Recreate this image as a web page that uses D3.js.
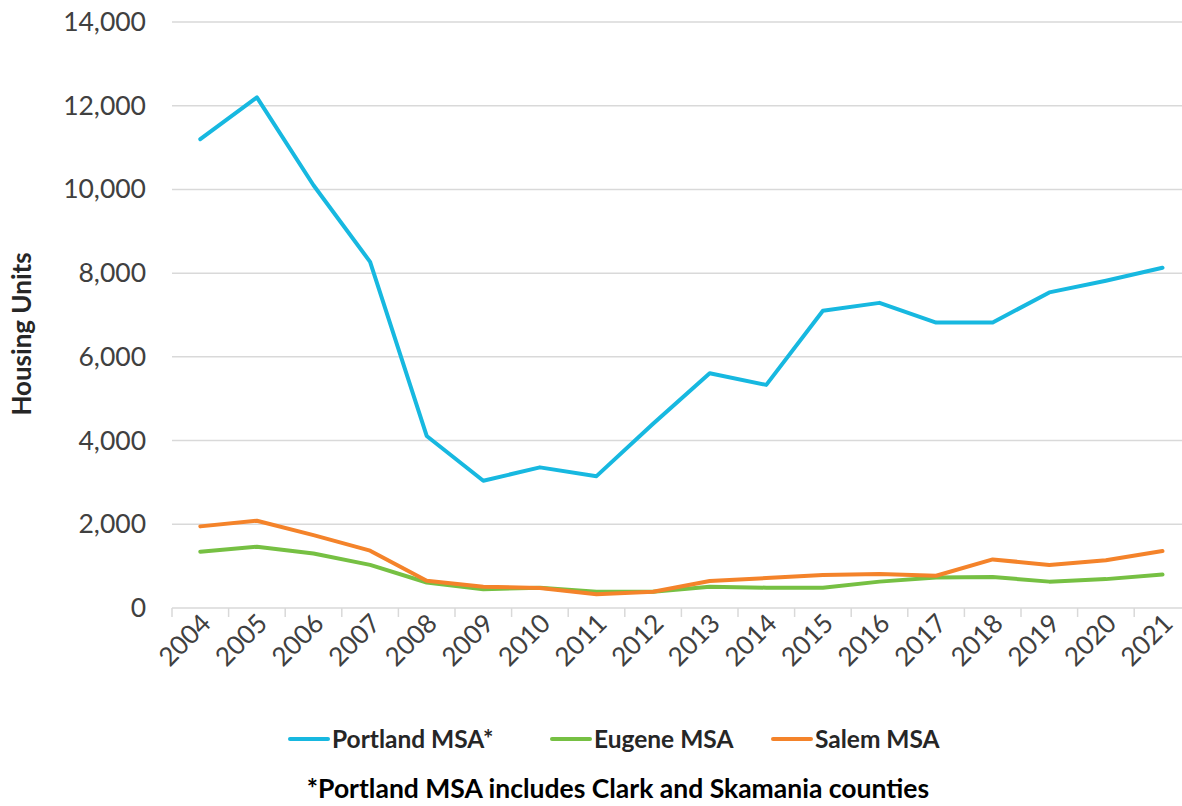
<!DOCTYPE html>
<html><head><meta charset="utf-8">
<script src="https://cdn.jsdelivr.net/npm/d3@7"></script>
<style>body{margin:0;background:#fff;} svg{display:block;}</style>
</head><body>
<svg id="c" width="1182" height="806"></svg>
<script>
const years = ["2004","2005","2006","2007","2008","2009","2010","2011","2012","2013","2014","2015","2016","2017","2018","2019","2020","2021"];
const portland = [11200,12200,10100,8270,4110,3040,3360,3150,4400,5610,5330,7100,7290,6820,6820,7540,7820,8130];
const eugene = [1345,1465,1300,1030,610,450,485,390,390,510,485,485,630,730,740,630,690,800];
const salem = [1950,2085,1740,1370,650,510,480,330,390,645,715,790,810,770,1160,1030,1140,1360];
const yTicks = [0,2000,4000,6000,8000,10000,12000,14000];
const seriesNames = ["Portland MSA*","Eugene MSA","Salem MSA"];
const colors = ["#17b8e0","#76c043","#f4832a"];

const svg = d3.select("#c");
const left = 172, bw = 56.6;
const x = d3.scaleBand().domain(years).range([left, left + bw*years.length]).padding(0);
const y = d3.scaleLinear().domain([0,14000]).range([608,22]);
const font = "Lato, 'Open Sans', sans-serif";

// gridlines
svg.append("g").selectAll("line").data(yTicks.slice(1)).join("line")
  .attr("x1", left).attr("x2", 1182).attr("y1", d=>y(d)).attr("y2", d=>y(d))
  .attr("stroke","#d9d9d9").attr("stroke-width",1.5);

// y axis labels
const yAxis = d3.axisLeft(y).tickValues(yTicks).tickSize(0).tickPadding(0).tickFormat(d3.format(","));
const gy = svg.append("g").attr("transform","translate(146,0)").call(yAxis);
gy.select(".domain").remove();
gy.selectAll("text").attr("font-family",font).attr("font-size",26.5).attr("fill","#404040");

// x axis
const xAxis = d3.axisBottom(x).tickSize(0).tickFormat(d=>d);
const gx = svg.append("g").attr("transform","translate(0,608)").call(xAxis);
gx.select(".domain").attr("stroke","#d9d9d9").attr("stroke-width",1.5).attr("d", `M${left},0H1182`);
gx.selectAll("text").attr("font-family",font).attr("font-size",26).attr("fill","#404040")
  .attr("text-anchor","end").attr("dy",0).attr("y",0)
  .attr("transform","translate(12,17) rotate(-45)");
// band boundary tick marks
svg.append("g").selectAll("line").data(years).join("line")
  .attr("x1", d=>x(d)).attr("x2", d=>x(d)).attr("y1",608).attr("y2",617)
  .attr("stroke","#d9d9d9").attr("stroke-width",1.5);

// y title
svg.append("text").attr("transform","translate(31,334) rotate(-90)")
  .attr("text-anchor","middle").attr("font-family",font).attr("font-weight","bold")
  .attr("font-size",26).attr("fill","#262626").text("Housing Units");

// lines
const data = [portland, eugene, salem];
const line = d3.line().x((d,i)=>x(years[i]) + x.bandwidth()/2).y(d=>y(d));
svg.append("g").selectAll("path").data(data).join("path")
  .attr("d", line).attr("fill","none")
  .attr("stroke",(d,i)=>colors[i]).attr("stroke-width",4)
  .attr("stroke-linejoin","round").attr("stroke-linecap","round");

// legend
const legX = [290, 552, 773];
const lg = svg.append("g").selectAll("g").data(seriesNames).join("g")
  .attr("transform",(d,i)=>`translate(${legX[i]},739)`);
lg.append("line").attr("x1",0).attr("x2",38).attr("stroke",(d,i)=>colors[i]).attr("stroke-width",4).attr("stroke-linecap","round");
lg.append("text").attr("x",42).attr("dy","0.35em").attr("font-family",font).attr("font-weight","bold")
  .attr("font-size",24.5).attr("fill","#262626").text(d=>d);

// footnote
svg.append("text").attr("x",618).attr("y",798).attr("text-anchor","middle")
  .attr("font-family",font).attr("font-weight","bold").attr("font-size",26.5).attr("fill","#000")
  .text("*Portland MSA includes Clark and Skamania counties");
</script>
</body></html>
